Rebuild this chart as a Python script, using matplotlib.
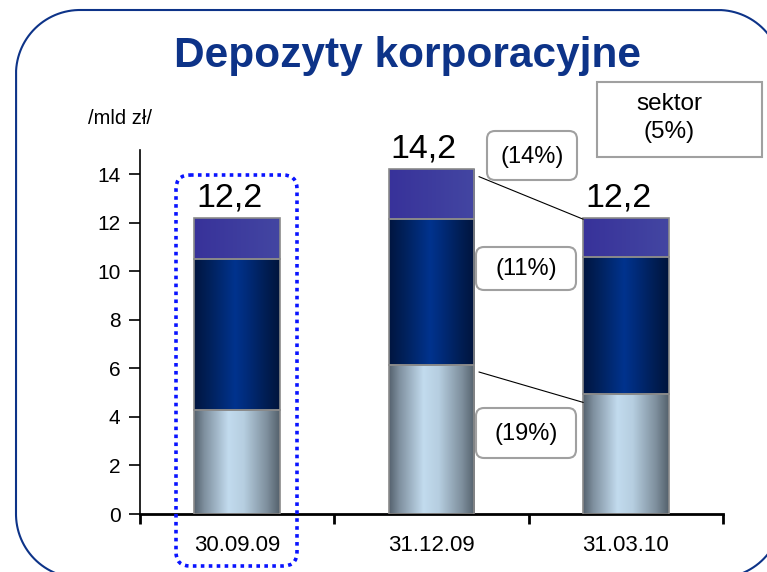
import numpy as np
import matplotlib
matplotlib.use('Agg')
import matplotlib.pyplot as plt
from matplotlib.patches import FancyBboxPatch, Rectangle
from matplotlib.colors import LinearSegmentedColormap

plt.rcParams['font.family'] = ['Liberation Sans', 'DejaVu Sans']

# data
categories = ['30.09.09', '31.12.09', '31.03.10']
bottom_vals = [4.3, 6.15, 4.95]
middle_vals = [6.2, 6.0, 5.65]
top_vals = [1.7, 2.05, 1.6]
totals = [12.2, 14.2, 12.2]
total_labels = ['12,2', '14,2', '12,2']
pct_labels = ['(14%)', '(11%)', '(19%)']
sector_label = 'sektor\n(5%)'

W, H = 767, 572
fig = plt.figure(figsize=(W / 100, H / 100), dpi=100)
fig.patch.set_facecolor('white')

ax = fig.add_axes([140 / W, 58 / H, 583 / W, 364 / H])
ax.set_facecolor('none')

cm_bottom = LinearSegmentedColormap.from_list('b', [
    (0.0, '#55626e'), (0.12, '#7f909f'), (0.4, '#c2dbee'),
    (0.58, '#b6cee0'), (0.85, '#7e8f9d'), (1.0, '#54616c')])
cm_middle = LinearSegmentedColormap.from_list('m', [
    (0.0, '#00153f'), (0.2, '#00225e'), (0.48, '#00338e'),
    (0.6, '#002c7c'), (0.85, '#001d52'), (1.0, '#00143c')])
cm_top = LinearSegmentedColormap.from_list('t', ['#38329a', '#4346a2'])

grad = np.linspace(0, 1, 256).reshape(1, -1)
bw = 0.44
x = np.arange(len(categories))

def gradient_bar(xc, y0, h, cmap):
    r = Rectangle((xc - bw / 2, y0), bw, h, facecolor='none',
                  edgecolor='#8a8a8a', lw=1.2, zorder=3)
    ax.add_patch(r)
    im = ax.imshow(grad, cmap=cmap, aspect='auto', zorder=2,
                   extent=(xc - bw / 2, xc + bw / 2, y0, y0 + h))
    im.set_clip_path(r)

for i in x:
    gradient_bar(i, 0, bottom_vals[i], cm_bottom)
    gradient_bar(i, bottom_vals[i], middle_vals[i], cm_middle)
    gradient_bar(i, bottom_vals[i] + middle_vals[i], top_vals[i], cm_top)
    ax.text(i - 0.04, totals[i] + 0.2, total_labels[i], ha='center',
            va='bottom', fontsize=24.5, color='black')

ax.set_xlim(-0.5, 2.5)
ax.set_ylim(0, 15)

# connector lines between bar 2 and bar 3
ax.plot([1 + bw / 2 + 0.025, 2 - bw / 2],
        [totals[1] - 0.3, totals[2] - 0.05], color='black', lw=0.8, zorder=4)
ax.plot([1 + bw / 2 + 0.025, 2 - bw / 2],
        [bottom_vals[1] - 0.3, bottom_vals[2] - 0.35], color='black', lw=0.8, zorder=4)

for s in ['top', 'right']:
    ax.spines[s].set_visible(False)
ax.spines['left'].set_linewidth(1.2)
ax.spines['bottom'].set_linewidth(2)
ax.set_yticks(range(0, 15, 2))
ax.tick_params(axis='y', direction='out', length=8, width=1.2,
               labelsize=15, pad=6)
ax.set_xticks(x)
ax.set_xticklabels(categories, fontsize=16)
ax.tick_params(axis='x', length=0, pad=15)
ax.set_xticks([-0.5, 0.5, 1.5, 2.5], minor=True)
ax.tick_params(axis='x', which='minor', direction='out', length=7, width=2)

# overlay in pixel coordinates
ov = fig.add_axes([0, 0, 1, 1], zorder=5)
ov.set_xlim(0, W)
ov.set_ylim(H, 0)
ov.axis('off')
ov.patch.set_alpha(0)

# outer frame, bottom edge lies just below the picture
L, T, R, B, rad = 16, 10, 782, 578, 64
t = np.linspace(0, np.pi / 2, 60)
bl_x = L + rad - rad * np.cos(t); bl_y = B - rad + rad * np.sin(t)
tl_x = L + rad - rad * np.cos(t); tl_y = T + rad - rad * np.sin(t)
tr_x = R - rad + rad * np.sin(t); tr_y = T + rad - rad * np.cos(t)
br_x = R - rad + rad * np.cos(t); br_y = B - rad + rad * np.sin(t)
fx = np.concatenate([bl_x[::-1], tl_x, tr_x, br_x])
fy = np.concatenate([bl_y[::-1], tl_y, tr_y, br_y])
ov.plot(fx, fy, color='#0d3388', lw=1.5)

ov.text(407, 67, 'Depozyty korporacyjne', ha='center', va='baseline',
        fontsize=30.5, fontweight='bold', color='#0d3388')
ov.text(88, 118, '/mld zł/', ha='left', va='center', fontsize=14.5)

ov.add_patch(FancyBboxPatch((176, 175), 121, 391,
                            boxstyle='round,pad=0,rounding_size=14',
                            facecolor='none', edgecolor='#0a14ff', lw=2.6,
                            linestyle=(0, (1, 1.2))))

boxes = [(487, 131, 90, 49), (476, 247, 100, 43), (476, 408, 100, 50)]
for (bx, by, bwid, bh), lab in zip(boxes, pct_labels):
    ov.add_patch(FancyBboxPatch((bx, by), bwid, bh,
                                boxstyle='round,pad=0,rounding_size=8',
                                facecolor='white', edgecolor='#a0a0a0', lw=1.5))
    ov.text(bx + bwid / 2, by + bh / 2 + 1, lab, ha='center', va='center',
            fontsize=17)

ov.add_patch(Rectangle((597, 82), 165, 75, facecolor='white',
                       edgecolor='#a0a0a0', lw=1.5))
ov.text(669, 118, sector_label, ha='center', va='center', fontsize=17.5,
        linespacing=1.3)

fig.savefig('out.png', dpi=100)
